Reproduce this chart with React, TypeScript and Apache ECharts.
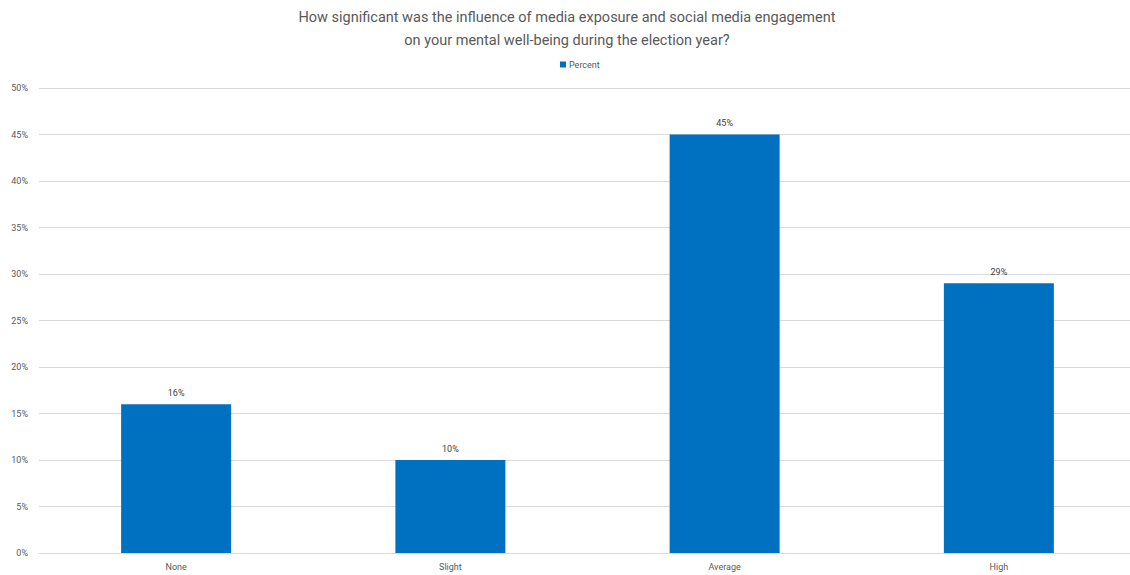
import React, { useEffect, useRef } from "react";
import * as echarts from "echarts";

const categories = ["None", "Slight", "Average", "High"];
const percentValues = [16, 10, 45, 29];
const seriesName = "Percent";
const titleText = "How significant was the influence of media exposure and social media engagement\non your mental well-being during the election year?";
const FONT = "Roboto";

export default function App() {
  const ref = useRef<HTMLDivElement>(null);
  useEffect(() => {
    const chart = echarts.init(ref.current!, null, { renderer: "svg" });
    chart.setOption({
      animation: false,
      backgroundColor: "#ffffff",
      title: {
        text: titleText,
        left: 562,
        textAlign: "center",
        top: 1,
        textStyle: {
          fontFamily: FONT,
          fontSize: 14.5,
          fontWeight: "normal",
          color: "#595959",
          lineHeight: 23,
        },
      },
      legend: {
        data: [seriesName],
        top: 55,
        left: 555,
        itemWidth: 6,
        itemHeight: 6,
        icon: "rect",
        itemGap: 4,
        textStyle: { fontFamily: FONT, fontSize: 9, color: "#595959", padding: [0, 0, 0, -2] },
      },
      grid: { left: 39, right: 4, top: 88, bottom: 22, containLabel: false },
      xAxis: {
        type: "category",
        data: categories,
        axisLine: { show: true, lineStyle: { color: "#d9d9d9" } },
        axisTick: { show: false },
        axisLabel: { fontFamily: FONT, fontSize: 9, color: "#595959", margin: 9 },
      },
      yAxis: {
        type: "value",
        min: 0,
        max: 50,
        interval: 5,
        axisLine: { show: false },
        axisTick: { show: false },
        axisLabel: { formatter: "{value}%", fontFamily: FONT, fontSize: 9, color: "#595959", margin: 11 },
        splitLine: { lineStyle: { color: "#d9d9d9", width: 1 } },
      },
      series: [
        {
          name: seriesName,
          type: "bar",
          data: percentValues,
          barWidth: 110,
          itemStyle: { color: "#0070c0" },
          label: {
            show: true,
            position: "top",
            distance: 7,
            formatter: "{c}%",
            fontFamily: FONT,
            fontSize: 9,
            color: "#404040",
          },
        },
      ],
    });
    return () => chart.dispose();
  }, []);
  return (
    <div style={{ position: "absolute", left: 0, top: 0, width: 1130, height: 575, overflow: "hidden", background: "#fff" }}>
      <div ref={ref} style={{ width: 1140, height: 575 }} />
    </div>
  );
}
